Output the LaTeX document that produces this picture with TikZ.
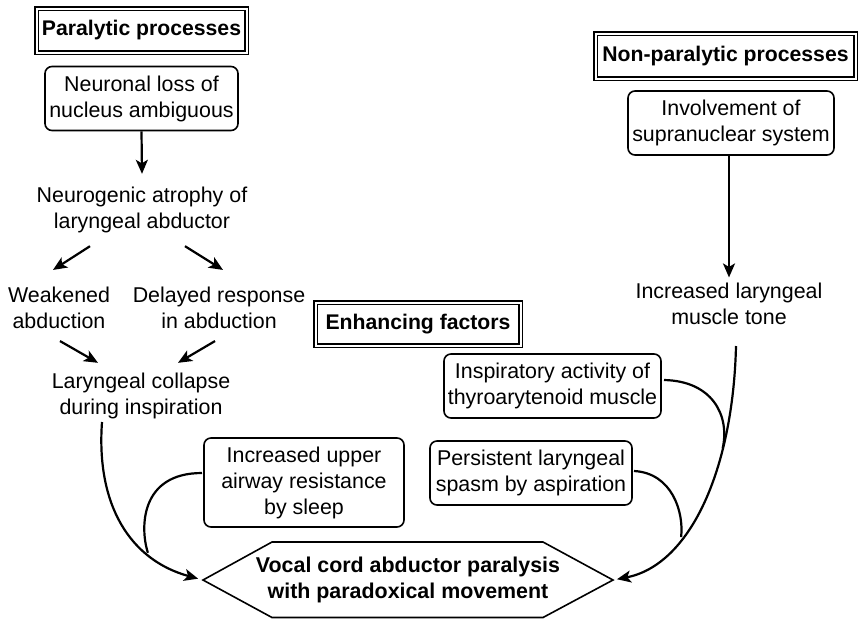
\documentclass[tikz,border=0pt]{standalone}
\usepackage{fontspec}
\setmainfont{Liberation Sans}
\usetikzlibrary{arrows.meta,calc}
\begin{document}
\begin{tikzpicture}[x=1pt,y=-1pt,
  every node/.style={font=\fontsize{21.4}{26}\selectfont, align=center, inner sep=0pt},
  rbox/.style={draw, line width=1.6pt, rounded corners=7pt},
  dbox/.style={draw, double, line width=1.5pt, double distance=2pt, font=\fontsize{21.2}{26}\selectfont\bfseries},
  txt/.style={inner ysep=#1},
  arr/.style={line width=2.2pt, -{Stealth[length=14pt,width=12pt,inset=3.5pt]}},
  ln/.style={line width=2.2pt}]
\useasboundingbox (0,0) rectangle (858,619);

% Left column
\node[dbox, minimum width=210pt, minimum height=44pt] (para) at (141.5,30.5) {Paralytic processes};
\node[rbox, minimum width=193pt, minimum height=64pt] (neur) at (141.5,98.5) {Neuronal loss of\\nucleus ambiguous};
\node[txt=13pt] (atro) at (142,210) {Neurogenic atrophy of\\laryngeal abductor};
\node[txt=14pt] (weak) at (59,308) {Weakened\\abduction};
\node[txt=14pt] (dela) at (219,308) {Delayed response\\in abduction};
\node[txt=6pt] (coll) at (141,396) {Laryngeal collapse\\during inspiration};

\draw[arr] (neur.south) -- (atro.north);
\draw[arr] ($(atro.south)+(-52,0)$) -- ($(weak.north)+(-6,-3)$);
\draw[arr] ($(atro.south)+(43,0)$) -- ($(dela.north)+(4,-3)$);
\draw[arr] ($(weak.south)+(1,-2)$) -- ($(coll.north)+(-43,-4)$);
\draw[arr] ($(dela.south)+(-4,-2)$) -- ($(coll.north)+(37,-4)$);

% Right column
\node[dbox, minimum width=260pt, minimum height=45pt] (nonp) at (725.5,56) {Non-paralytic processes};
\node[rbox, minimum width=206pt, minimum height=64pt] (invo) at (731,123) {Involvement of\\supranuclear system};
\node[txt=5pt] (tone) at (729,303.5) {Increased laryngeal\\muscle tone};
\draw[arr] (invo.south -| tone.north) -- (tone.north);

% Enhancing factors
\node[dbox, minimum width=205pt, minimum height=43pt] (enha) at (418,324) {Enhancing factors};
\node[rbox, minimum width=217pt, minimum height=64pt] (insp) at (552.5,386) {Inspiratory activity of\\thyroarytenoid muscle};
\node[rbox, minimum width=202pt, minimum height=64pt] (pers) at (531,473) {Persistent laryngeal\\spasm by aspiration};
\node[rbox, minimum width=200pt, minimum height=89pt] (slee) at (304,482.5) {Increased upper\\airway resistance\\by sleep};

% Goal hexagon
\node[font=\fontsize{21.4}{26}\selectfont\bfseries] (goal) at (408,580) {Vocal cord abductor paralysis\\with paradoxical movement};
\coordinate (hl) at (203,580);
\coordinate (hr) at (613,580);
\draw[line width=1.6pt] (hl) -- (272,542) -- (543,542) -- (hr) -- (543,617.5) -- (272,617.5) -- cycle;

% Curved connectors
\coordinate (c1) at (102,422);
\coordinate (s1) at (202,473);
\coordinate (t1) at (736,346);
\coordinate (i1) at (664,380);
\coordinate (p1) at (634,471);
\draw[arr, shorten >=5pt] (c1) .. controls (96,505) and (130,560) .. coordinate[pos=0.7] (lm) (hl);
\draw[arr, shorten >=4pt] (t1) .. controls (733,470) and (690,565) .. coordinate[pos=0.3] (rm1) coordinate[pos=0.65] (rm2) (hr);
\draw[ln] (s1) .. controls (140,473) and (140,528) .. (lm);
\draw[ln] (i1) .. controls (712,381) and (730,415) .. (rm1);
\draw[ln] (p1) .. controls (672,473) and (684,512) .. (rm2);
\end{tikzpicture}
\end{document}
